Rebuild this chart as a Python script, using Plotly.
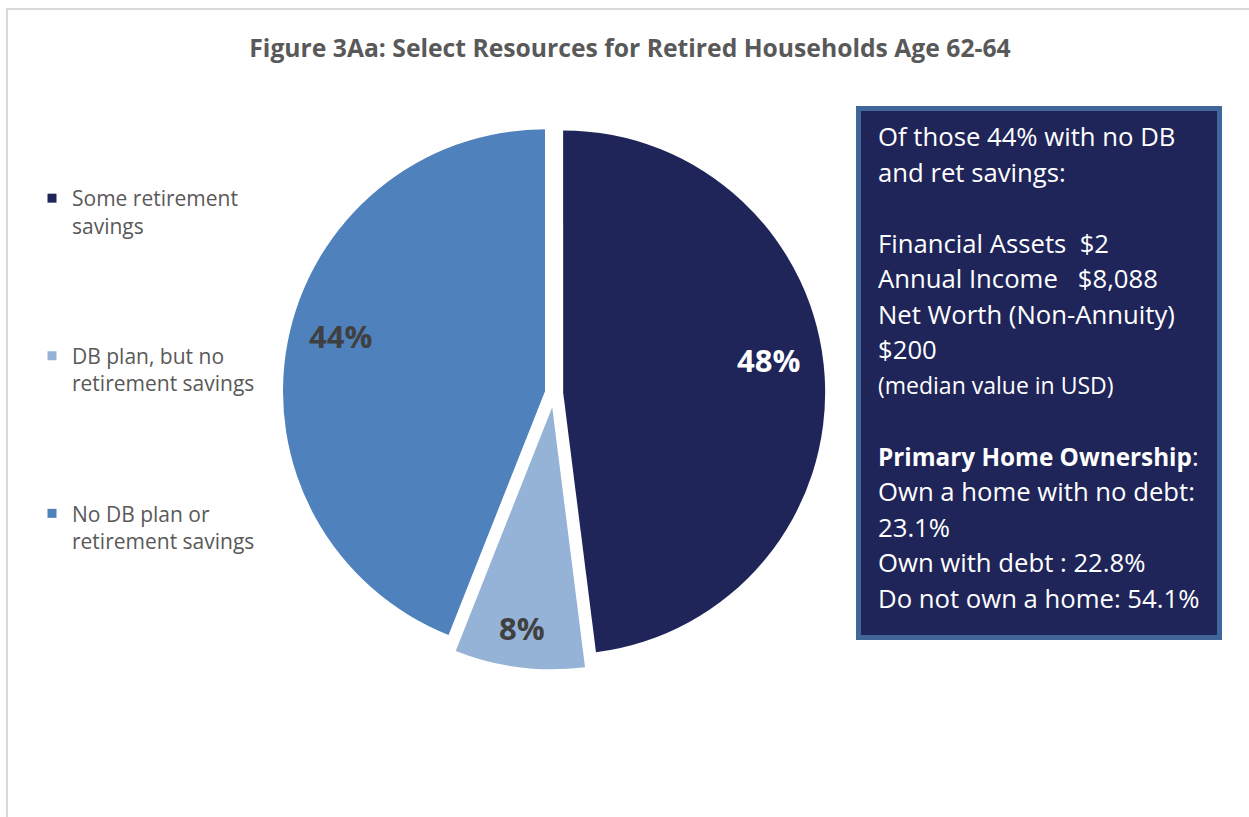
import plotly.graph_objects as go

W, H = 1249, 817

# Pie data
categories = ["Some retirement savings", "DB plan, but no retirement savings", "No DB plan or retirement savings"]
legend_names = ["Some retirement<br>savings", "DB plan, but no<br>retirement savings", "No DB plan or<br>retirement savings"]
shares = [48, 8, 44]
slice_colors = ["#1F2559", "#95B3D7", "#4F81BD"]
label_colors = ["#FFFFFF", "#404040", "#404040"]
pulls = [0.035, 0.055, 0.035]
# where each percentage label sits (pixel centre)
label_pos = [(768, 360), (522, 628), (340, 336)]

# Side-box text
box_lines = [
    "Of those 44% with no DB",
    "and ret savings:",
    "",
    "Financial Assets\u00a0\u00a0$2",
    "Annual Income\u00a0\u00a0\u00a0$8,088",
    "Net Worth (Non-Annuity)",
    "$200",
    "(median value in USD)",
    "",
    "<b style='font-size:24.3px'>Primary Home Ownership</b>:",
    "Own a home with no debt:",
    "23.1%",
    "Own with debt : 22.8%",
    "Do not own a home: 54.1%",
]
box_small = {"(median value in USD)"}

title_text = "Figure 3Aa: Select Resources for Retired Households Age 62-64"

FONT = "Open Sans"


def px_x(v):
    return v / W


def px_y(v):
    return 1 - v / H


fig = go.Figure()

# pie geometry (pixels): center and radius
cx, cy, R = 554, 393, 262
half = R * (1 + max(pulls))
fig.add_trace(go.Pie(
    labels=categories,
    values=shares,
    marker=dict(colors=slice_colors, line=dict(width=0)),
    pull=pulls,
    sort=False,
    direction="clockwise",
    rotation=0,
    textinfo="none",
    hoverinfo="label+percent",
    showlegend=False,
    domain=dict(x=[px_x(cx - half), px_x(cx + half)],
                y=[px_y(cy + half), px_y(cy - half)]),
))

# legend entries with square swatches
for name, col in zip(legend_names, slice_colors):
    fig.add_trace(go.Scatter(
        x=[None], y=[None], mode="markers", name=name,
        marker=dict(symbol="square", size=9, color=col),
        legendgroup=name, hoverinfo="skip",
    ))

shapes = [
    # outer frame
    dict(type="rect", xref="paper", yref="paper",
         x0=px_x(7), x1=px_x(W + 20), y0=px_y(H + 20), y1=px_y(9),
         line=dict(color="#D9D9D9", width=2), fillcolor="rgba(0,0,0,0)", layer="below"),
    # side box
    dict(type="rect", xref="paper", yref="paper",
         x0=px_x(858.5), x1=px_x(1219.5), y0=px_y(637.5), y1=px_y(108.5),
         line=dict(color="#41669A", width=5), fillcolor="#1F2559", layer="above"),
]

annotations = []
# percentage labels on the slices
total = sum(shares)
for v, (lx, ly), col in zip(shares, label_pos, label_colors):
    annotations.append(dict(
        text=f"<b>{round(100 * v / total)}%</b>", xref="paper", yref="paper",
        x=px_x(lx), y=px_y(ly), xanchor="center", yanchor="middle", showarrow=False,
        font=dict(family=FONT, size=31, color=col),
    ))

line_top, line_step = 136.8, 35.5
for i, txt in enumerate(box_lines):
    if not txt:
        continue
    annotations.append(dict(
        text=txt, xref="paper", yref="paper",
        x=px_x(876), y=px_y(line_top + i * line_step),
        xanchor="left", yanchor="middle", showarrow=False,
        font=dict(family=FONT, size=23 if txt in box_small else 25.7, color="#FFFFFF"),
    ))

fig.update_layout(
    width=W, height=H,
    margin=dict(l=0, r=0, t=0, b=0, autoexpand=False),
    paper_bgcolor="#FFFFFF", plot_bgcolor="#FFFFFF",
    title=dict(text="<b>" + title_text + "</b>", x=px_x(630), xanchor="center",
               y=px_y(48), yanchor="middle",
               font=dict(family=FONT, size=24.7, color="#595959")),
    xaxis=dict(visible=False), yaxis=dict(visible=False),
    legend=dict(x=px_x(32), y=px_y(178), xanchor="left", yanchor="top",
                valign="top", tracegroupgap=100,
                font=dict(family=FONT, size=21, color="#595959"),
                bgcolor="rgba(0,0,0,0)"),
    shapes=shapes,
    annotations=annotations,
)

fig.write_html("out.html")
